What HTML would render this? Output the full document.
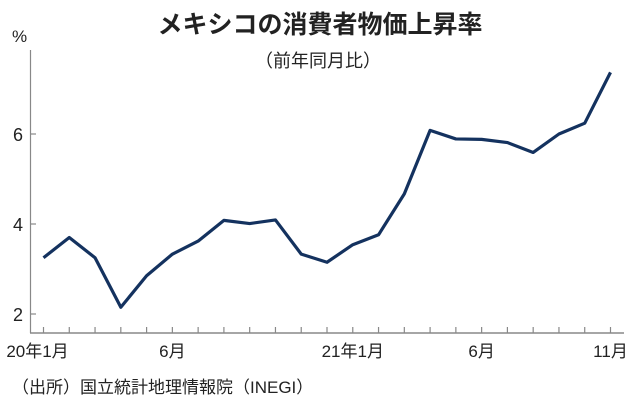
<!DOCTYPE html>
<html><head><meta charset="utf-8"><style>
body{margin:0;background:#fff;}
svg text{font-family:"Liberation Sans","Noto Sans CJK JP",sans-serif;fill:#222;}
</style></head><body>
<svg width="638" height="408" viewBox="0 0 638 408">
<text x="320" y="33" text-anchor="middle" font-size="25" font-weight="bold">メキシコの消費者物価上昇率</text>
<text x="318" y="67" text-anchor="middle" font-size="18">（前年同月比）</text>
<text x="12" y="42" font-size="17">%</text>
<text x="12" y="393" font-size="17">（出所）国立統計地理情報院（INEGI）</text>
<g id="axes"></g>
<polyline id="line" fill="none" stroke="#14325f" stroke-width="3.2" stroke-linejoin="round"></polyline>
</svg>
<script>
const values=[3.25,3.70,3.25,2.15,2.85,3.33,3.62,4.08,4.01,4.09,3.33,3.15,3.54,3.76,4.67,6.08,5.89,5.88,5.81,5.59,6.00,6.24,7.37];
const yTicks=[2,4,6];
const xLabels=[[0,"20年1月"],[5,"6月"],[12,"21年1月"],[17,"6月"],[22,"11月"]];
const NS="http://www.w3.org/2000/svg";
const x=i=>43.5+i*(610.5-43.5)/22;
const y=v=>314-(v-2)*45;
const axes=document.getElementById('axes');
function mk(t,a){const e=document.createElementNS(NS,t);for(const k in a)e.setAttribute(k,a[k]);axes.appendChild(e);return e;}
let e=mk('line',{x1:30.5,y1:50,x2:30.5,y2:333,stroke:'#888','stroke-width':1.2});


e=mk('line',{x1:30,y1:333,x2:624,y2:333,stroke:'#888','stroke-width':1.5});


yTicks.forEach(v=>{
 let t=mk('line',{x1:30,y1:y(v),x2:36,y2:y(v),stroke:'#888','stroke-width':1.2});
 
 
 let l=mk('text',{x:23,y:y(v)+7,'text-anchor':'end','font-size':18});
 l.textContent=v;
 
 
});
values.forEach((v,i)=>{
 let t=mk('line',{x1:x(i),y1:327,x2:x(i),y2:333,stroke:'#888','stroke-width':1.2});
 
 
});
xLabels.forEach(([i,s])=>{
 let l=mk('text',{x:x(i)-(i==0?6:0),y:357,'text-anchor':'middle','font-size':17});
 l.textContent=s;
 
 
});
document.getElementById('line').setAttribute('points',values.map((v,i)=>x(i)+','+y(v)).join(' '));
</script>
</body></html>
